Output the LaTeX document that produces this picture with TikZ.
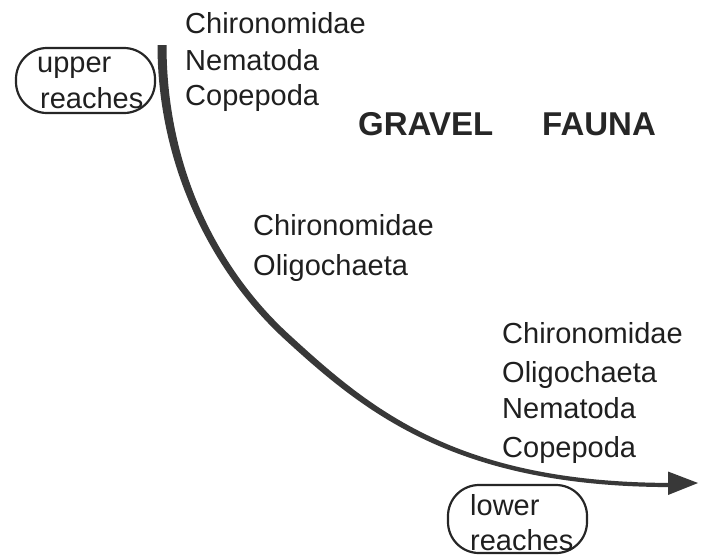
\documentclass[tikz,border=0pt]{standalone}
\usepackage{fontspec}
\setmainfont{Liberation Sans}
\begin{document}
\begin{tikzpicture}[x=1pt,y=-1pt,
  lbl/.style={anchor=base west, inner sep=0pt, text=black!88, font=\fontsize{29}{36}\selectfont},
  ttl/.style={anchor=base west, inner sep=0pt, text=black!85, font=\fontsize{33}{40}\selectfont\bfseries},
  reach/.style={draw=black!85, line width=2.2pt, rounded corners=31pt, inner sep=0pt},
  stream/.style={fill=black!78, draw=none}]
\useasboundingbox (0,0) rectangle (701,558);
% boxes
\node[reach, minimum width=139pt, minimum height=65pt] (upper) at (85.5,80.5) {};
\node[lbl] (u1) at (37,72) {upper};
\node[lbl] (u2) at (40,108) {reaches};
\node[reach, minimum width=139pt, minimum height=68pt] (lower) at (517.5,519) {};
\node[lbl] (l1) at (470,515) {lower};
\node[lbl] (l2) at (470,550) {reaches};
% stream curve (tapering)
\coordinate (src) at (162,45);
\coordinate (tip) at (698,483);
\fill[stream] (166.5,45) .. controls (166.5,165) and (215.53,266.97) .. (289.23,334.57)
  .. controls (370.33,408.97) and (457,482.9) .. (672,482.9)
  -- (672,487.1) .. controls (457,487.1) and (365.87,413.83) .. (284.77,339.43)
  .. controls (211.07,271.83) and (157.5,165) .. (157.5,45) -- cycle;
\fill[stream] (668,471.5) -- (tip) -- (668,495) -- cycle;
% texts
\node[lbl] (a1) at (185,33) {Chironomidae};
\node[lbl] (a2) at (185,70) {Nematoda};
\node[lbl] (a3) at (185,105) {Copepoda};
\node[ttl] (g1) at (358,135) {GRAVEL};
\node[ttl] (g2) at (542,135) {FAUNA};
\node[lbl] (b1) at (253,235) {Chironomidae};
\node[lbl] (b2) at (253,275) {Oligochaeta};
\node[lbl] (c1) at (502,343) {Chironomidae};
\node[lbl] (c2) at (502,382) {Oligochaeta};
\node[lbl] (c3) at (502,418) {Nematoda};
\node[lbl] (c4) at (502,457) {Copepoda};
\end{tikzpicture}
\end{document}
